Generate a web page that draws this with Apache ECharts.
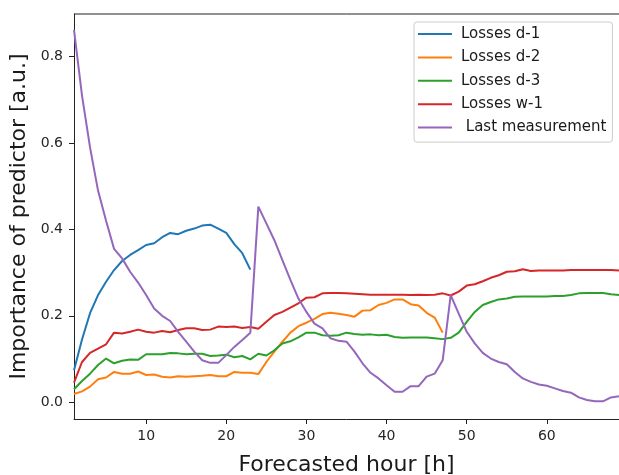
<!DOCTYPE html>
<html>
<head>
<meta charset="utf-8">
<script src="https://cdn.jsdelivr.net/npm/echarts@6/dist/echarts.min.js"></script>
<style>
  html, body { margin: 0; padding: 0; background: #fff; }
  #chart { width: 619px; height: 475px; }
</style>
</head>
<body>
<div id="chart"></div>
<script>
var hours = [1, 2, 3, 4, 5, 6, 7, 8, 9, 10, 11, 12, 13, 14, 15, 16, 17, 18, 19, 20,
  21, 22, 23, 24, 25, 26, 27, 28, 29, 30, 31, 32, 33, 34, 35, 36, 37, 38, 39, 40,
  41, 42, 43, 44, 45, 46, 47, 48, 49, 50, 51, 52, 53, 54, 55, 56, 57, 58, 59, 60,
  61, 62, 63, 64, 65, 66, 67, 68, 69];

// Losses d-1 (hours 1-23)
var lossesD1 = [0.074, 0.145, 0.206, 0.248, 0.279, 0.306, 0.327, 0.341, 0.352, 0.364,
  0.368, 0.382, 0.392, 0.389, 0.397, 0.402, 0.409, 0.411, 0.402, 0.392,
  0.366, 0.345, 0.307];

// Losses d-2 (hours 1-47)
var lossesD2 = [0.019, 0.025, 0.036, 0.053, 0.057, 0.070, 0.066, 0.066, 0.071, 0.063,
  0.064, 0.059, 0.057, 0.060, 0.059, 0.060, 0.061, 0.063, 0.060, 0.060,
  0.070, 0.068, 0.068, 0.065, 0.093, 0.117, 0.140, 0.161, 0.176, 0.184,
  0.193, 0.204, 0.207, 0.205, 0.202, 0.198, 0.212, 0.213, 0.225, 0.230,
  0.238, 0.238, 0.227, 0.224, 0.207, 0.196, 0.161];

var lossesD3 = [0.030, 0.049, 0.066, 0.086, 0.101, 0.090, 0.096, 0.099, 0.098, 0.111,
  0.111, 0.111, 0.114, 0.113, 0.111, 0.112, 0.112, 0.107, 0.108, 0.110,
  0.104, 0.107, 0.099, 0.112, 0.108, 0.120, 0.136, 0.141, 0.150, 0.161,
  0.161, 0.155, 0.154, 0.155, 0.161, 0.158, 0.156, 0.157, 0.155, 0.156,
  0.151, 0.149, 0.150, 0.150, 0.150, 0.148, 0.146, 0.149, 0.161, 0.186,
  0.209, 0.225, 0.232, 0.238, 0.240, 0.244, 0.245, 0.245, 0.245, 0.245,
  0.246, 0.246, 0.248, 0.252, 0.253, 0.253, 0.253, 0.250, 0.248];

var lossesW1 = [0.045, 0.093, 0.114, 0.124, 0.134, 0.161, 0.159, 0.163, 0.168, 0.163,
  0.161, 0.165, 0.162, 0.167, 0.171, 0.171, 0.167, 0.168, 0.175, 0.174,
  0.175, 0.172, 0.174, 0.170, 0.186, 0.202, 0.209, 0.219, 0.229, 0.242,
  0.243, 0.252, 0.253, 0.253, 0.252, 0.251, 0.250, 0.249, 0.249, 0.249,
  0.249, 0.249, 0.248, 0.249, 0.248, 0.249, 0.252, 0.247, 0.256, 0.270,
  0.273, 0.280, 0.288, 0.294, 0.302, 0.303, 0.308, 0.304, 0.305, 0.305,
  0.305, 0.305, 0.306, 0.306, 0.306, 0.306, 0.306, 0.306, 0.305];

var lastMeasurement = [0.862, 0.710, 0.590, 0.490, 0.420, 0.355, 0.333, 0.302, 0.277, 0.248,
  0.217, 0.200, 0.188, 0.163, 0.140, 0.117, 0.097, 0.091, 0.091, 0.109,
  0.128, 0.144, 0.161, 0.453, 0.414, 0.375, 0.329, 0.283, 0.240, 0.209,
  0.182, 0.171, 0.148, 0.142, 0.140, 0.117, 0.090, 0.068, 0.055, 0.039,
  0.024, 0.024, 0.037, 0.037, 0.059, 0.066, 0.097, 0.248, 0.205, 0.163,
  0.136, 0.114, 0.101, 0.093, 0.088, 0.070, 0.055, 0.047, 0.041, 0.038,
  0.032, 0.026, 0.022, 0.011, 0.005, 0.002, 0.002, 0.011, 0.014];

var xTicks = [10, 20, 30, 40, 50, 60];
var yTicks = [0.0, 0.2, 0.4, 0.6, 0.8];

var font = 'DejaVu Sans';

function pairs(vals) {
  return vals.map(function (v, i) { return [hours[i], v]; });
}

function lineSeries(name, vals, color) {
  return {
    name: name,
    type: 'line',
    data: pairs(vals),
    symbol: 'none',
    lineStyle: { color: color, width: 2 },
    itemStyle: { color: color }, // legend icon colour
    animation: false
  };
}

var chart = echarts.init(document.getElementById('chart'), null, { renderer: 'canvas' });

var option = {
  backgroundColor: '#fff',
  textStyle: { fontFamily: font },
  // outerBoundsMode none: keep the plot box fixed, don't shrink it for the big axis names
  grid: { left: 74, top: 14, right: 0, bottom: 56, containLabel: false, outerBoundsMode: 'none' },
  legend: {
    orient: 'vertical',
    left: 414,
    top: 22,
    icon: 'path://M0,0L17,0L17,1L0,1Z', // thin line sample
    itemWidth: 34,
    itemHeight: 15,
    itemGap: 8.4,
    padding: [4.5, 6, 7, 4],
    borderColor: '#cccccc',
    borderWidth: 1,
    borderRadius: 3,
    backgroundColor: 'rgba(255,255,255,0.8)',
    textStyle: { fontFamily: font, fontSize: 15, color: '#1a1a1a', padding: [0, 0, 0, 4] },
    data: ['Losses d-1', 'Losses d-2', 'Losses d-3', 'Losses w-1', ' Last measurement']
  },
  xAxis: {
    type: 'value',
    min: 1,
    max: 69,
    name: 'Forecasted hour [h]',
    nameLocation: 'middle',
    nameGap: 35,
    nameTextStyle: { fontFamily: font, fontSize: 22, color: '#1a1a1a' },
    axisLine: { show: true, onZero: false, lineStyle: { color: '#222', width: 1 } },
    axisTick: { show: true, inside: false, length: 5, customValues: xTicks, lineStyle: { color: '#222' } },
    axisLabel: { customValues: xTicks, margin: 10, fontSize: 14, color: '#262626', fontFamily: font },
    splitLine: { show: false }
  },
  yAxis: {
    type: 'value',
    min: -0.039,
    max: 0.899,
    name: 'Importance of predictor [a.u.]',
    nameLocation: 'middle',
    nameGap: 41,
    nameRotate: 90,
    nameTextStyle: { fontFamily: font, fontSize: 22, color: '#1a1a1a' },
    axisLine: { show: true, onZero: false, lineStyle: { color: '#222', width: 1 } },
    axisTick: { show: true, inside: false, length: 5, customValues: yTicks, lineStyle: { color: '#222' } },
    axisLabel: {
      customValues: yTicks, margin: 11, fontSize: 14, color: '#262626', fontFamily: font,
      formatter: function (v) { return v.toFixed(1); }
    },
    splitLine: { show: false }
  },
  series: [
    lineSeries('Losses d-1', lossesD1, '#1f77b4'),
    lineSeries('Losses d-2', lossesD2, '#ff7f0e'),
    lineSeries('Losses d-3', lossesD3, '#2ca02c'),
    lineSeries('Losses w-1', lossesW1, '#d62728'),
    lineSeries(' Last measurement', lastMeasurement, '#9467bd')
  ]
};

chart.setOption(option);

// top spine drawn at the grid's top edge
var yTop = chart.convertToPixel({ yAxisIndex: 0 }, 0.899);
chart.setOption({
  graphic: [{
    type: 'line',
    shape: { x1: 74, y1: yTop, x2: 619, y2: yTop },
    style: { stroke: '#222', lineWidth: 1 },
    silent: true
  }]
});
</script>
</body>
</html>
